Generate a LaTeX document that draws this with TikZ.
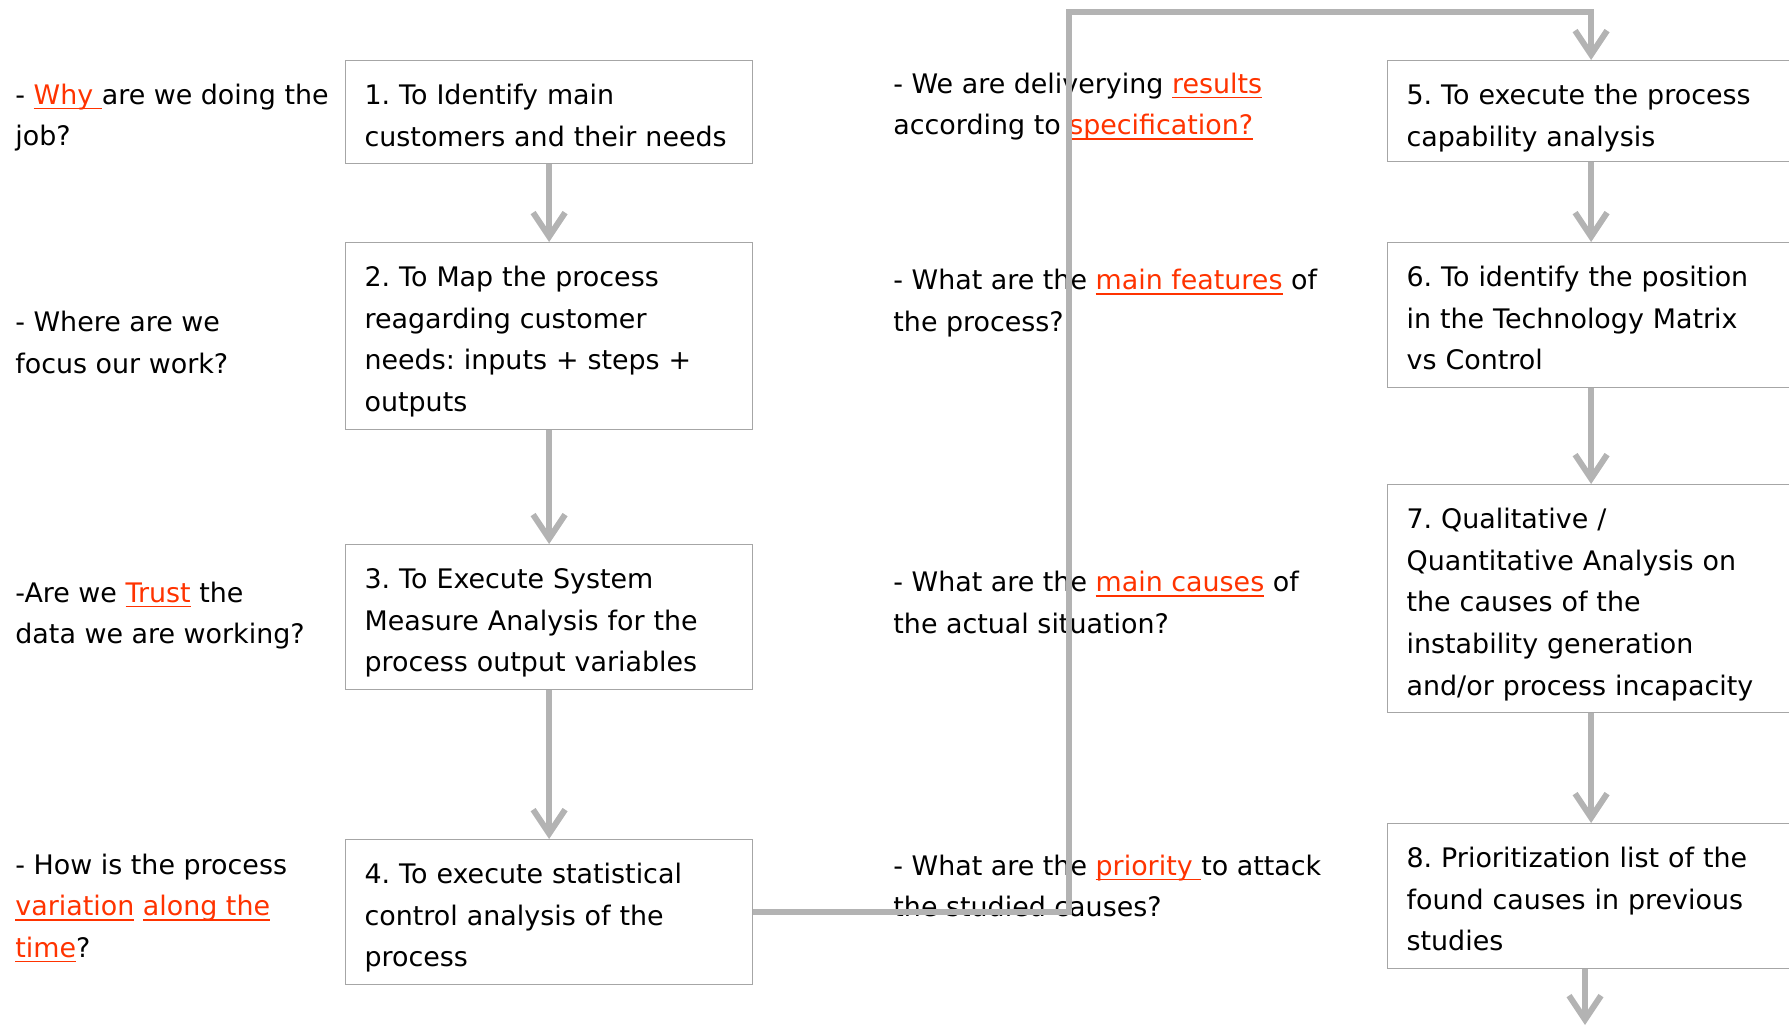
\documentclass[tikz,border=0pt]{standalone}
\usepackage{fontspec}
\setmainfont{DejaVu Sans}
\usetikzlibrary{arrows.meta}
\definecolor{flowgray}{HTML}{B3B3B3}
\definecolor{boxgray}{HTML}{A6A6A6}
\definecolor{linkred}{HTML}{FF3300}
\newcommand{\redlink}[1]{\textcolor{linkred}{\setbox0\hbox{#1}\rlap{\rule[-2.6pt]{\wd0}{0.9pt}}\box0}}
\tikzset{
  stepbox/.style={draw=boxgray, line width=0.6pt, anchor=north west, text width=184.5pt,
    inner xsep=9.5pt, inner ysep=5pt, align=left,
    execute at begin node={\rule{0pt}{17pt}}, execute at end node={\rule[-#1]{0pt}{#1}}},
  stepbox/.default=3.85pt,
  ask/.style={anchor=west, align=left, inner sep=0pt},
  flow/.style={flowgray, line width=3pt, -{Straight Barb[length=12pt,width=16pt]}},
}
\begin{document}
\begin{tikzpicture}[x=0.5pt,y=0.5pt,font=\fontsize{13.45}{20.8}\selectfont\frenchspacing]
  \useasboundingbox (0,0) rectangle (1789,1025);
  % questions, left column
  \node[ask] (q1) at (15,907.5) {- \redlink{Why }are we doing the\\job?};
  \node[ask] (q2) at (15,682.5) {- Where are we\\focus our work?};
  \node[ask] (q3) at (15,409.5) {-Are we \redlink{Trust} the\\data we are working?};
  \node[ask] (q4) at (15,117) {- How is the process\\\redlink{variation} \redlink{along the}\\\redlink{time}?};
  % steps 1-4
  \node[stepbox] (b1) at (345,965) {1. To Identify main\\customers and their needs};
  \node[stepbox] (b2) at (345,783) {2. To Map the process\\reagarding customer\\needs: inputs + steps +\\outputs};
  \node[stepbox] (b3) at (345,481) {3. To Execute System\\Measure Analysis for the\\process output variables};
  \node[stepbox] (b4) at (345,186) {4. To execute statistical\\control analysis of the\\process};
  % questions, middle column
  \node[ask] (m1) at (893,918.5) {- We are deliverying \redlink{results}\\according to \redlink{specification?}};
  \node[ask] (m2) at (893,722) {- What are the \redlink{main features} of\\the process?};
  \node[ask] (m3) at (893,422.5) {- What are the \redlink{main causes} of\\the actual situation?};
  \node[ask] (m4) at (893,139) {- What are the \redlink{priority }to attack\\the studied causes?};
  % steps 5-8
  \node[stepbox=1.85pt] (b5) at (1387,965) {5. To execute the process\\capability analysis};
  \node[stepbox] (b6) at (1387,783) {6. To identify the position\\in the Technology Matrix\\vs Control};
  \node[stepbox] (b7) at (1387,541) {7. Qualitative /\\Quantitative Analysis on\\the causes of the\\instability generation\\and/or process incapacity};
  \node[stepbox] (b8) at (1387,202) {8. Prioritization list of the\\found causes in previous\\studies};
  % arrows
  \foreach \a/\b in {b1/b2,b2/b3,b3/b4,b5/b6,b6/b7,b7/b8}
    \draw[flow] (\a.south) -- (\b.north);
  \coordinate (back) at (1069,1013);
  \coordinate (next) at (1585,0);
  \draw[flow] (b4.east) -| (back) -| (b5.north);
  \draw[flow] (b8.south -| next) -- (next);
\end{tikzpicture}
\end{document}
